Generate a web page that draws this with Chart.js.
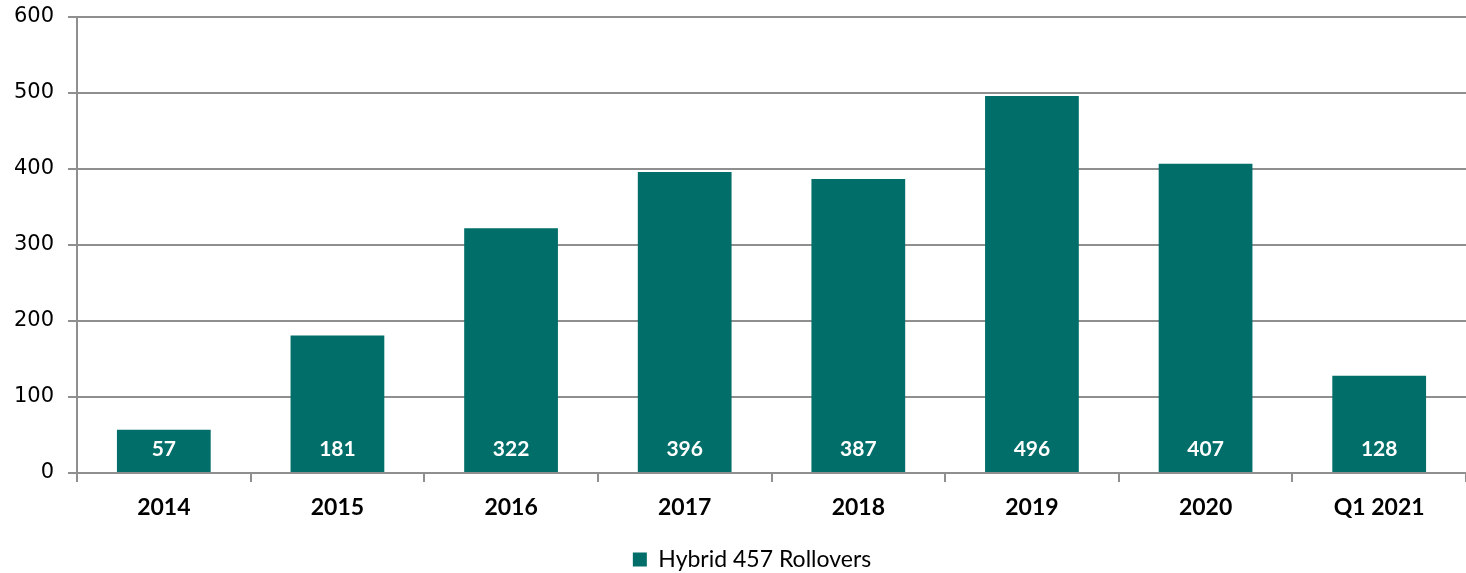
<!DOCTYPE html>
<html>
<head>
<meta charset="utf-8">
<script src="https://cdn.jsdelivr.net/npm/chart.js@4/dist/chart.umd.min.js"></script>
<style>
  html, body { margin: 0; padding: 0; background: #fff; }
  #wrap { width: 1466px; height: 573px; }
</style>
</head>
<body>
<div id="wrap"><canvas id="graph1"></canvas></div>
<script>
"use strict"

const labels = ['2014', '2015', '2016', '2017', '2018', '2019', '2020', 'Q1 2021'];
const rollovers = [57, 181, 322, 396, 387, 496, 407, 128];
const yTicks = [0, 100, 200, 300, 400, 500, 600];

const barColor = '#016e69';
const gridColor = '#8f8f8f';

// draw the value labels inside the bars, near the base
const barLabels = {
    id: 'barLabels',
    afterDatasetsDraw(chart) {
        const ctx = chart.ctx;
        const meta = chart.getDatasetMeta(0);
        const yZero = chart.scales.y.getPixelForValue(0);
        ctx.save();
        ctx.fillStyle = '#ffffff';
        ctx.font = 'bold 21px Lato, "Open Sans", sans-serif';
        ctx.textAlign = 'center';
        ctx.textBaseline = 'middle';
        meta.data.forEach((bar, i) => {
            ctx.fillText(String(rollovers[i]), bar.x, yZero - 24);
        });
        ctx.restore();
    }
};

// legend sits a little right of the canvas centre in the original
const legendShift = {
    id: 'legendShift',
    afterLayout(chart) {
        chart.legend.left += 19;
        chart.legend.right += 19;
    }
};

let plotData = {
    labels: labels,
    datasets: [
        {
            label: 'Hybrid 457 Rollovers',
            data: rollovers,
            backgroundColor: barColor,
            borderWidth: 0,
            categoryPercentage: 1.0,
            barPercentage: 0.54
        }
    ]
};

let config = {
    type: 'bar',
    data: plotData,
    plugins: [barLabels, legendShift],
    options: {
        responsive: true,
        maintainAspectRatio: false,
        animation: false,
        layout: {
            padding: { top: 17, right: 0, bottom: -8, left: 0 }
        },
        scales: {
            x: {
                grid: {
                    display: true,
                    drawOnChartArea: false,
                    color: gridColor,
                    lineWidth: 2,
                    tickLength: 9
                },
                border: { display: true, color: gridColor, width: 2 },
                ticks: {
                    color: '#000',
                    padding: 12,
                    font: { family: 'Lato, "Open Sans", sans-serif', size: 23, weight: 'bold' }
                },
                afterFit(scale) {
                    scale.height = 73;
                    scale.paddingLeft = 0;
                    scale.paddingRight = 0;
                }
            },
            y: {
                min: 0,
                max: 600,
                afterBuildTicks(scale) {
                    scale.ticks = yTicks.map(v => ({ value: v }));
                },
                grid: {
                    color: gridColor,
                    lineWidth: 2,
                    tickLength: 9
                },
                border: { display: true, color: gridColor, width: 2 },
                ticks: {
                    color: '#000',
                    padding: 14,
                    font: { family: '"DejaVu Sans", sans-serif', size: 21 }
                },
                afterFit(scale) {
                    scale.width = 77;
                    scale.paddingTop = 0;
                    scale.paddingBottom = 0;
                }
            }
        },
        plugins: {
            legend: {
                display: true,
                position: 'bottom',
                labels: {
                    color: '#000',
                    boxWidth: 14,
                    boxHeight: 14,
                    padding: 2,
                    font: { family: 'Lato, "Open Sans", sans-serif', size: 23 }
                }
            },
            title: { display: false },
            tooltip: { enabled: false }
        }
    }
};

const canvas = document.getElementById('graph1').getContext('2d');
const chart1 = new Chart(canvas, config);
</script>
</body>
</html>
